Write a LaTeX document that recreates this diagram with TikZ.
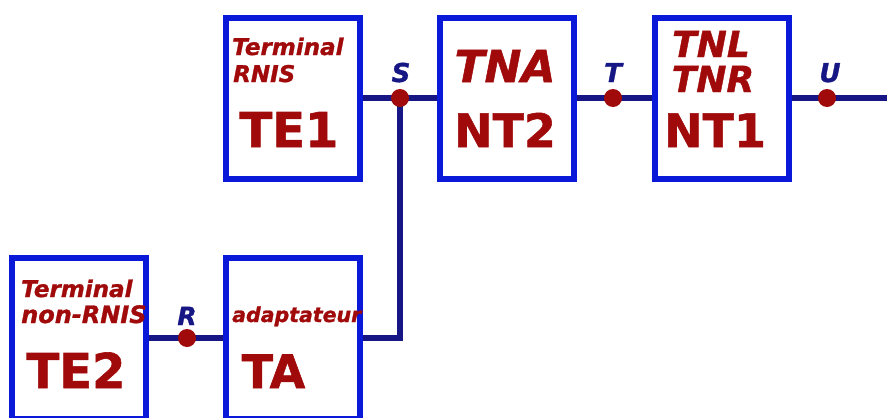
\documentclass[tikz,border=0pt]{standalone}
\usepackage{fontspec}
\setmainfont{DejaVu Sans}[BoldFeatures={FakeBold=1.2},BoldItalicFeatures={FakeBold=1.2}]
\usetikzlibrary{backgrounds}
\definecolor{boxblue}{HTML}{0A18D8}
\definecolor{navy}{HTML}{161684}
\definecolor{dred}{HTML}{A00A0A}
\tikzset{
  box/.style={draw=boxblue, line width=6pt, minimum width=134pt, minimum height=161pt, inner sep=0pt},
  dot/.style={circle, fill=dred, minimum size=18pt, inner sep=0pt},
  wire/.style={draw=navy, line width=6pt},
  small/.style={text=dred, font=\fontsize{23}{23}\selectfont\bfseries\itshape, inner sep=0pt},
  big/.style={text=dred, font=\fontsize{48}{48}\selectfont\bfseries, inner sep=0pt, anchor=base},
  mid/.style={text=dred, font=\fontsize{44}{44}\selectfont\bfseries\itshape, inner sep=0pt, anchor=base},
  lab/.style={text=navy, font=\fontsize{26}{26}\selectfont\bfseries\itshape, inner sep=0pt, anchor=base},
}
\begin{document}
\begin{tikzpicture}[x=1pt,y=-1pt]
\useasboundingbox (0,0) rectangle (887,418);
\clip (0,0) rectangle (887,418);
% boxes
\node[box] (te1) at (293,98) {};
\node[box] (nt2) at (507,98) {};
\node[box] (nt1) at (721.5,98) {};
\node[box] (te2) at (79,338) {};
\node[box] (ta) at (293,338) {};
% dots
\node[dot] (s) at (400,98) {};
\node[dot] (t) at (613,98) {};
\node[dot] (u) at (827,98) {};
\node[dot] (r) at (187,338) {};
\coordinate (uend) at (895,98);
% wires
\begin{scope}[on background layer]
\draw[wire] (te1.east) -- (s.center) -- (nt2.west);
\draw[wire] (nt2.east) -- (t.center) -- (nt1.west);
\draw[wire] (nt1.east) -- (u.center) -- (uend);
\draw[wire] (te2.east) -- (r.center) -- (ta.west);
\draw[wire] (ta.east) -| (s.center);
\end{scope}
% texts TE1
\node[small, anchor=base west] (te1a) at (232,55) {Terminal};
\node[small, anchor=base west] (te1b) at (233,82) {RNIS};
\node[big] (te1c) at (289,147) {TE1};
% NT2
\node[mid] (nt2a) at (505,82) {TNA};
\node[big, font=\fontsize{46}{46}\selectfont\bfseries] (nt2b) at (505,147) {NT2};
% NT1
\node[mid, font=\fontsize{36}{36}\selectfont\bfseries\itshape] (nt1a) at (711,57) {TNL};
\node[mid, font=\fontsize{36}{36}\selectfont\bfseries\itshape] (nt1b) at (713,92) {TNR};
\node[big, font=\fontsize{46}{46}\selectfont\bfseries] (nt1c) at (715,147) {NT1};
% TE2
\node[small, anchor=base west] (te2a) at (21,297) {Terminal};
\node[small, anchor=base west, font=\fontsize{24}{24}\selectfont\bfseries\itshape] (te2b) at (21,323) {non-RNIS};
\node[big] (te2c) at (76,388) {TE2};
% TA
\node[small, anchor=base west, font=\fontsize{20.5}{20.5}\selectfont\bfseries\itshape] (taa) at (232,322) {adaptateur};
\node[big, font=\fontsize{46}{46}\selectfont\bfseries] (tab) at (273.5,388) {TA};
% labels
\node[lab] (ls) at (401,82) {S};
\node[lab] (lt) at (613,82) {T};
\node[lab] (lu) at (830,82) {U};
\node[lab, font=\fontsize{25}{25}\selectfont\bfseries\itshape] (lr) at (187,325) {R};
\end{tikzpicture}
\end{document}
